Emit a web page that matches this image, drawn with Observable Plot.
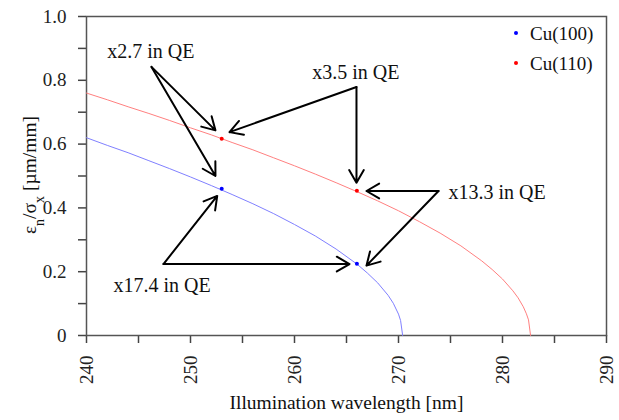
<!DOCTYPE html>
<html><head><meta charset="utf-8">
<script src="https://cdn.jsdelivr.net/npm/d3@7"></script>
<script src="https://cdn.jsdelivr.net/npm/@observablehq/plot@0.6"></script>
<style>
body{margin:0;background:#fff}
svg, svg text, svg tspan {font-family: "Liberation Serif", "DejaVu Serif", serif !important;}
</style>
</head><body><div id="chart"></div>
<script>
// Cu(100) curve (wavelength nm, emittance ratio)
const blueWl  = [240, 242, 244, 246, 248, 250, 252, 254, 256, 258, 260, 262, 264, 266, 267, 268, 269, 269.5, 270, 270.2, 270.4];
const blueVal = [0.620, 0.596, 0.573, 0.548, 0.523, 0.497, 0.470, 0.442, 0.413, 0.382, 0.348, 0.312, 0.271, 0.224, 0.196, 0.165, 0.126, 0.101, 0.067, 0.047, 0];
// Cu(110) curve
const redWl  = [240, 242, 244, 246, 248, 250, 252, 254, 256, 258, 260, 262, 264, 266, 268, 270, 272, 274, 276, 278, 279, 280, 281, 281.5, 282, 282.3, 282.5, 282.7];
const redVal = [0.760, 0.739, 0.717, 0.696, 0.674, 0.651, 0.629, 0.605, 0.582, 0.557, 0.532, 0.506, 0.479, 0.451, 0.422, 0.391, 0.357, 0.321, 0.281, 0.234, 0.207, 0.177, 0.140, 0.118, 0.090, 0.068, 0.049, 0];
// highlighted points
const blueDotWl = [253, 266];
const blueDotVal = [0.460, 0.225];
const redDotWl = [253, 266];
const redDotVal = [0.617, 0.454];
// annotations
const noteText = ["x2.7 in QE", "x3.5 in QE", "x13.3 in QE", "x17.4 in QE"];
const noteWl   = [242.0, 261.7, 274.8, 242.6];
const noteVal  = [0.89, 0.825, 0.448, 0.156];
// arrows: start -> end
const arrX1 = [246.25, 246.25, 265.96, 265.96, 273.85, 273.85, 247.4, 247.4];
const arrY1 = [0.842, 0.842, 0.779, 0.779, 0.453, 0.453, 0.224, 0.224];
const arrX2 = [252.4, 252.4, 253.75, 265.96, 266.92, 266.92, 252.57, 265.29];
const arrY2 = [0.643, 0.500, 0.6375, 0.479, 0.453, 0.219, 0.4375, 0.224];
const legendNames = ["Cu(100)", "Cu(110)"];
const legendColors = ["#0000ff", "#ff0000"];
const xTicks = d3.range(240, 291, 5);
const yTicks = d3.range(0, 1.0001, 0.1).map(d => +d.toFixed(1));

const FONT = "'Liberation Serif', 'DejaVu Serif', serif";
const blue = blueWl.map((x, i) => ({x, y: blueVal[i]}));
const red = redWl.map((x, i) => ({x, y: redVal[i]}));
const bd = blueDotWl.map((x, i) => ({x, y: blueDotVal[i]}));
const rd = redDotWl.map((x, i) => ({x, y: redDotVal[i]}));
const notes = noteText.map((t, i) => ({t, x: noteWl[i], y: noteVal[i]}));
const arrows = arrX1.map((x1, i) => ({x1, y1: arrY1[i], x2: arrX2[i], y2: arrY2[i]}));
const legend = legendNames.map((n, i) => ({n, c: legendColors[i], i}));

const chart = Plot.plot({
  width: 619, height: 420,
  marginLeft: 86, marginRight: 13, marginTop: 16, marginBottom: 85,
  style: {fontFamily: FONT, fontSize: "18px", color: "#222", background: "#fff"},
  x: {domain: [240, 290]},
  y: {domain: [0, 1]},
  marks: [
    Plot.axisX({ticks: xTicks, tickFormat: d => d % 10 === 0 ? String(d) : "", tickRotate: -90, tickSize: 8, tickPadding: 12, label: null, stroke: "#444", strokeWidth: 1.5, fontSize: 19, fill: "#222"}),
    Plot.axisY({ticks: yTicks, tickFormat: d => Math.round(d * 10) % 2 === 0 ? (d === 0 ? "0" : d.toFixed(1)) : "", tickSize: 8, tickPadding: 12, label: null, stroke: "#444", strokeWidth: 1.5, fontSize: 19, fill: "#222"}),
    Plot.frame({stroke: "#555", strokeWidth: 1.5}),
    Plot.line(blue, {x: "x", y: "y", stroke: "#8080ff", strokeWidth: 1}),
    Plot.line(red, {x: "x", y: "y", stroke: "#ff8080", strokeWidth: 1}),
    Plot.dot(bd, {x: "x", y: "y", r: 2, fill: "#0000ff"}),
    Plot.dot(rd, {x: "x", y: "y", r: 2, fill: "#ff0000"}),
    Plot.arrow(arrows, {x1: "x1", y1: "y1", x2: "x2", y2: "y2", stroke: "#000", strokeWidth: 2, headLength: 11}),
    Plot.text(notes, {x: "x", y: "y", text: "t", textAnchor: "start", fill: "#111", fontSize: 20, fontFamily: FONT}),
    Plot.text(["Illumination wavelength [nm]"], {frameAnchor: "bottom", dy: 73, fill: "#111", fontSize: 19.5, fontFamily: FONT})
  ]
});
document.getElementById("chart").appendChild(chart);

// legend + y label via d3 overlay on the same SVG
const svg = d3.select(chart);
const lg = svg.append("g").attr("font-family", FONT).attr("text-anchor", "start");
legend.forEach((d, i) => {
  lg.append("circle").attr("cx", 516).attr("cy", 33 + i * 30).attr("r", 2).attr("fill", d.c);
  lg.append("text").attr("x", 530).attr("y", 33 + i * 30).attr("dy", "0.35em").attr("text-anchor", "start").attr("fill", "#111").attr("font-size", 19).text(d.n);
});
const yl = svg.append("text").attr("transform", "translate(29,175) rotate(-90)").attr("text-anchor", "middle").attr("fill", "#111").attr("font-size", 19.5).attr("font-family", FONT).attr("dy", "0.35em");
yl.append("tspan").text("ε");
yl.append("tspan").attr("baseline-shift", "sub").attr("font-size", 14).text("n");
yl.append("tspan").text("/σ");
yl.append("tspan").attr("baseline-shift", "sub").attr("font-size", 14).text("x");
yl.append("tspan").text(" [µm/mm]");
</script>
</body></html>
